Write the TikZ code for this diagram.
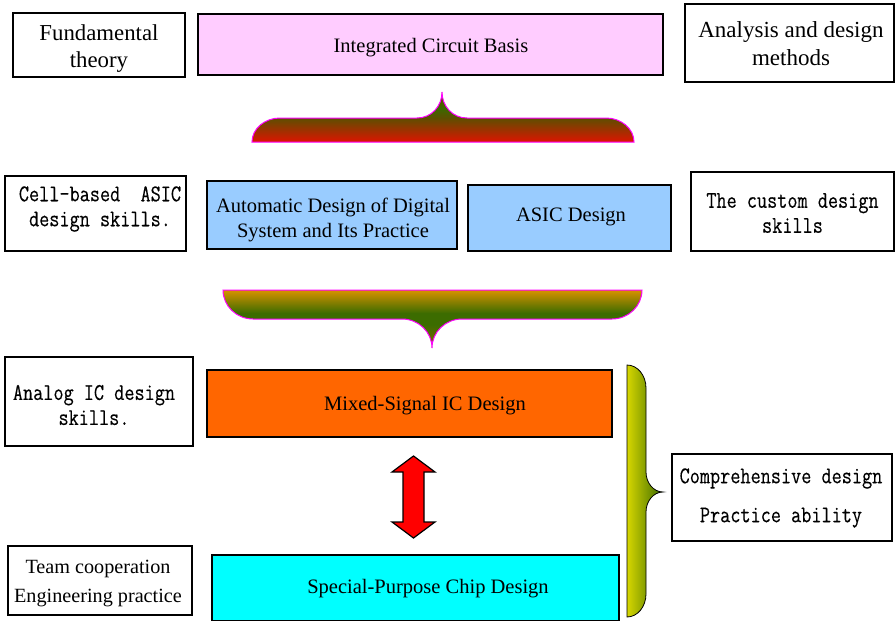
\documentclass[tikz,border=0pt]{standalone}
\usepackage{fontspec}
\setmainfont{Liberation Serif}
\newfontfamily\monof[FakeStretch=0.82, FakeBold=0.3]{Latin Modern Mono}
\usetikzlibrary{fit}

% box fills
\definecolor{pinkfill}{HTML}{FFCCFF}
\definecolor{bluefill}{HTML}{99CCFF}
\definecolor{orangefill}{HTML}{FF6600}
\definecolor{cyanfill}{HTML}{00FFFF}
\definecolor{arrowred}{HTML}{FF0000}
\definecolor{braceedge}{HTML}{FF00FF}
% gradient colours of the braces
\definecolor{uRed}{HTML}{DD1400}
\definecolor{uOlive}{HTML}{5E4E00}
\definecolor{uGreen}{HTML}{3A6A00}
\definecolor{uBrown}{HTML}{7A3800}
\definecolor{lOrange}{HTML}{D89200}
\definecolor{lGreen}{HTML}{3C6C00}
\definecolor{lTip}{HTML}{8A6400}
\definecolor{rYellow}{HTML}{D6D600}
\definecolor{rGreen}{HTML}{3A6A00}

\pgfdeclareverticalshading{upperbrace}{100bp}{color(0bp)=(uRed); color(25bp)=(uRed); color(49bp)=(uOlive); color(59bp)=(uGreen); color(75bp)=(uBrown); color(100bp)=(uBrown)}
\pgfdeclareverticalshading{lowerbrace}{100bp}{color(0bp)=(lTip); color(25bp)=(lTip); color(45bp)=(lGreen); color(55bp)=(lGreen); color(75bp)=(lOrange); color(100bp)=(lOrange)}

\tikzset{
  box/.style={draw=black, line width=1.2pt, inner sep=0pt},
  serif/.style={inner sep=0pt, align=center, font=\fontsize{20.5}{25}\selectfont},
  mono/.style={inner sep=0pt, align=center, font=\monof\fontsize{24}{25}\selectfont},
  bracefill/.style={draw=braceedge, line width=1pt},
}

\begin{document}
\begin{tikzpicture}[x=1pt,y=-1pt]
\useasboundingbox (0,0) rectangle (895,621);

% ---------- boxes ----------
\node[box, fit={(13,13)(185,77)}] (fundbox) {};
\node[box, fill=pinkfill, fit={(198,14)(663,75)}] (icbox) {};
\node[box, fit={(685,4)(894,82)}] (anabox) {};
\node[box, fit={(5,176)(186,251)}] (cellbox) {};
\node[box, fill=bluefill, fit={(207,181)(457,249)}] (autobox) {};
\node[box, fill=bluefill, fit={(468,185)(671,251)}] (asicbox) {};
\node[box, fit={(691,172)(894,251)}] (custbox) {};
\node[box, fit={(5,357)(193,446)}] (anlgbox) {};
\node[box, fill=orangefill, fit={(207,370)(612,437)}] (mixbox) {};
\node[box, fit={(8,546)(192,615)}] (teambox) {};
\node[box, fill=cyanfill, fit={(212,555)(619,621)}] (spbox) {};
\node[box, fit={(672,454)(892,541)}] (compbox) {};

% ---------- texts ----------
\node[serif, font=\fontsize{22.8}{27}\selectfont] (fundtxt) at (99,48.5) {Fundamental\\theory};
\node[serif] (ictxt) at (431,48) {Integrated Circuit Basis};
\node[serif, font=\fontsize{23}{28}\selectfont] (anatxt) at (791,44) {Analysis and design\\methods};
\node[mono] (celltxt) at (100,209) {Cell-based\ \ ASIC\\design skills.};
\node[serif] (autotxt) at (333,219.5) {Automatic Design of Digital\\System and Its Practice};
\node[serif] (asictxt) at (571,217) {ASIC Design};
\node[mono] (custtxt) at (792.5,213) {The custom design\\skills};
\node[mono] (anlgtxt) at (94,405) {Analog IC design\\skills.};
\node[serif] (mixtxt) at (425,406) {Mixed-Signal IC Design};
\node[serif, font=\fontsize{20.2}{29}\selectfont] (teamtxt) at (98,583.5) {Team cooperation\\Engineering practice};
\node[serif] (sptxt) at (428,589) {Special-Purpose Chip Design};
\node[mono, font=\monof\fontsize{24}{39}\selectfont] (comptxt) at (781,498) {Comprehensive design\\Practice ability};

% ---------- brace under the top row ----------
\shadedraw[shading=upperbrace, bracefill]
  (252,142) -- (634,142)
  .. controls (634,128.8) and (621.4,118) .. (606,118) -- (467,118)
  .. controls (452.7,118) and (442,106.3) .. (442,92)
  .. controls (442,106.3) and (431.3,118) .. (417,118) -- (280,118)
  .. controls (264.6,118) and (252,128.8) .. (252,142) -- cycle;

% ---------- brace under the second row ----------
\shadedraw[shading=lowerbrace, bracefill]
  (223,290) -- (642,290)
  .. controls (642,306) and (628.5,319) .. (612,319) -- (462,319)
  .. controls (445.5,319) and (432,332) .. (432,348)
  .. controls (432,332) and (418.5,319) .. (402,319) -- (253,319)
  .. controls (236.5,319) and (223,306) .. (223,290) -- cycle;

% ---------- right brace grouping the lower row ----------
\shadedraw[left color=rYellow, right color=rGreen, draw=black, line width=0.8pt]
  (627,365) .. controls (637.5,365) and (646,375.3) .. (646,388) -- (646,472)
  .. controls (646,483) and (653.6,492) .. (663,492)
  .. controls (653.6,492) and (646,501) .. (646,512) -- (646,594)
  .. controls (646,606.7) and (637.5,617) .. (627,617) -- cycle;

% ---------- two-headed block arrow between the lower boxes ----------
\coordinate (arrowmid) at (413.5,497);
\filldraw[fill=arrowred, draw=black, line width=1.2pt, line join=miter, shift={(arrowmid)}]
  (0,-41) -- (21.5,-25) -- (10.5,-25) -- (10.5,25) -- (21.5,25) -- (0,41)
  -- (-21.5,25) -- (-10.5,25) -- (-10.5,-25) -- (-21.5,-25) -- cycle;

\end{tikzpicture}
\end{document}
